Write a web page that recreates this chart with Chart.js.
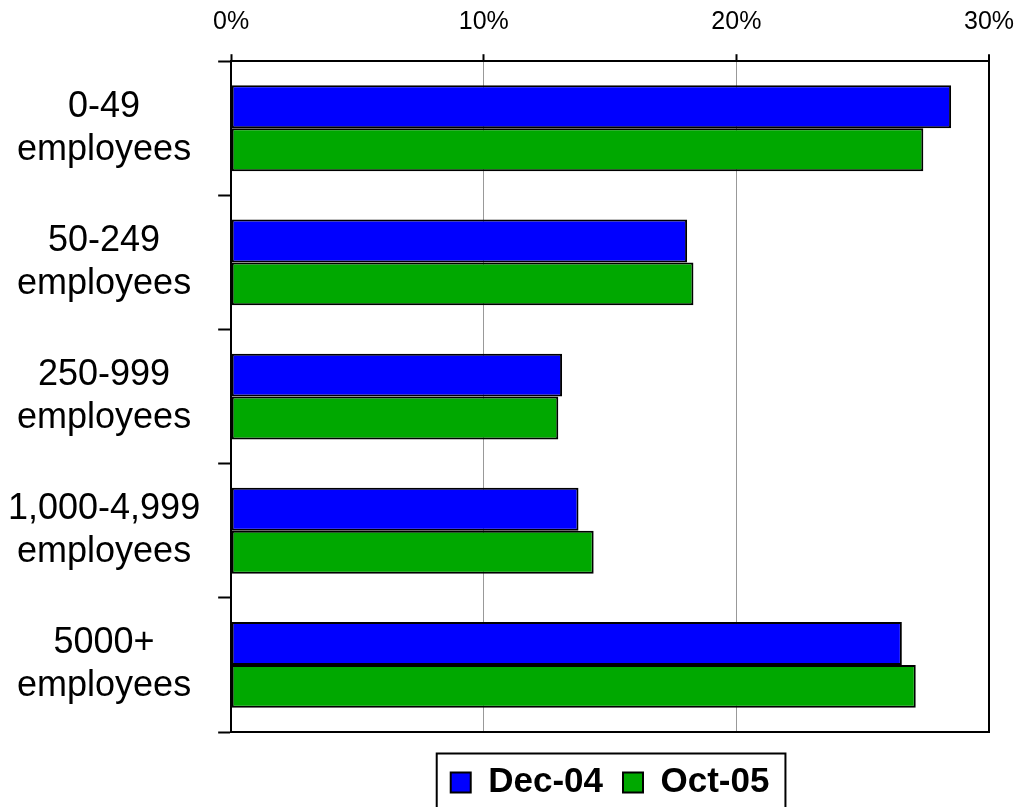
<!DOCTYPE html>
<html>
<head>
<meta charset="utf-8">
<script src="https://cdn.jsdelivr.net/npm/chart.js@4.4.0/dist/chart.umd.min.js"></script>
<style>
  html, body { margin: 0; padding: 0; background: #fff; }
  canvas { display: block; }
</style>
</head>
<body>
<canvas id="chart" width="1016" height="807"></canvas>
<script>
const categories = [
	['0-49', 'employees'],
	['50-249', 'employees'],
	['250-999', 'employees'],
	['1,000-4,999', 'employees'],
	['5000+', 'employees'],
];
const seriesNames = ['Dec-04', 'Oct-05'];
const dec04 = [28.5, 18.05, 13.1, 13.75, 26.55];
const oct05 = [27.4, 18.3, 12.95, 14.35, 27.1];
const xMin = 0;
const xMax = 30;
const xStep = 10;

Chart.defaults.font.family = '"Liberation Sans", Arial, sans-serif';
Chart.defaults.color = '#000';

// right frame of the plot + box around the legend
const framePlugin = {
	id: 'frame',
	afterDraw(chart) {
		const { ctx, chartArea: a, legend } = chart;
		ctx.save();
		ctx.strokeStyle = '#000';
		ctx.lineWidth = 2;
		ctx.beginPath();
		ctx.moveTo(a.right, a.bottom);
		ctx.lineTo(a.right, a.top);
		ctx.stroke();

		const boxes = legend.legendHitBoxes;
		if (boxes && boxes.length) {
			const first = boxes[0];
			const last = boxes[boxes.length - 1];
			const l = first.left - 14;
			const r = last.left + last.width + 16;
			const mid = first.top + first.height / 2;
			const t = mid - 29;
			ctx.strokeRect(l, t, r - l, chart.height - t + 10);
		}
		ctx.restore();
	},
};

const ctx = document.getElementById('chart').getContext('2d');
new Chart(ctx, {
	type: 'bar',
	data: {
		labels: categories,
		datasets: [
			{
				label: seriesNames[0],
				data: dec04,
				backgroundColor: '#0000ff',
				borderColor: '#000',
				borderWidth: 2,
				borderSkipped: false,
				categoryPercentage: 0.64,
				barPercentage: 1.0,
			},
			{
				label: seriesNames[1],
				data: oct05,
				backgroundColor: '#00a800',
				borderColor: '#000',
				borderWidth: 2,
				borderSkipped: false,
				categoryPercentage: 0.64,
				barPercentage: 1.0,
			},
		],
	},
	options: {
		responsive: false,
		animation: false,
		indexAxis: 'y',
		layout: { padding: { left: -10, right: 0, top: -10, bottom: -3 } },
		scales: {
			x: {
				position: 'top',
				min: xMin,
				max: xMax,
				ticks: {
					stepSize: xStep,
					padding: 17,
					font: { size: 25 },
					callback: (v) => v + '%',
				},
				grid: {
					color: (c) => (c.tick && c.tick.value === xMax ? '#000' : '#999'),
					lineWidth: (c) => (c.tick && c.tick.value === xMax ? 2 : 1),
					tickColor: '#000',
					tickWidth: 2,
					tickLength: 7,
				},
				border: { color: '#000', width: 2 },
				// only leave room for half of the "30%" label on the right
				afterFit: (s) => { s.paddingRight = 27; },
			},
			// bottom edge of the plot, also keeps a gap above the legend
			x2: {
				axis: 'x',
				position: 'bottom',
				min: xMin,
				max: xMax,
				ticks: { display: false },
				grid: { drawOnChartArea: false, drawTicks: false },
				border: { color: '#000', width: 2 },
				afterFit: (s) => { s.height = 13; },
			},
			y: {
				ticks: {
					crossAlign: 'center',
					padding: 18,
					font: { size: 36 },
				},
				grid: {
					drawOnChartArea: false,
					tickColor: '#000',
					tickLength: 13,
					tickWidth: 2,
				},
				border: { color: '#000', width: 2 },
			},
		},
		plugins: {
			legend: {
				position: 'bottom',
				fullSize: false,
				labels: {
					boxWidth: 20,
					boxHeight: 20,
					padding: 20,
					font: { size: 35, weight: 'bold' },
				},
			},
			tooltip: { enabled: false },
		},
	},
	plugins: [framePlugin],
});
</script>
</body>
</html>
